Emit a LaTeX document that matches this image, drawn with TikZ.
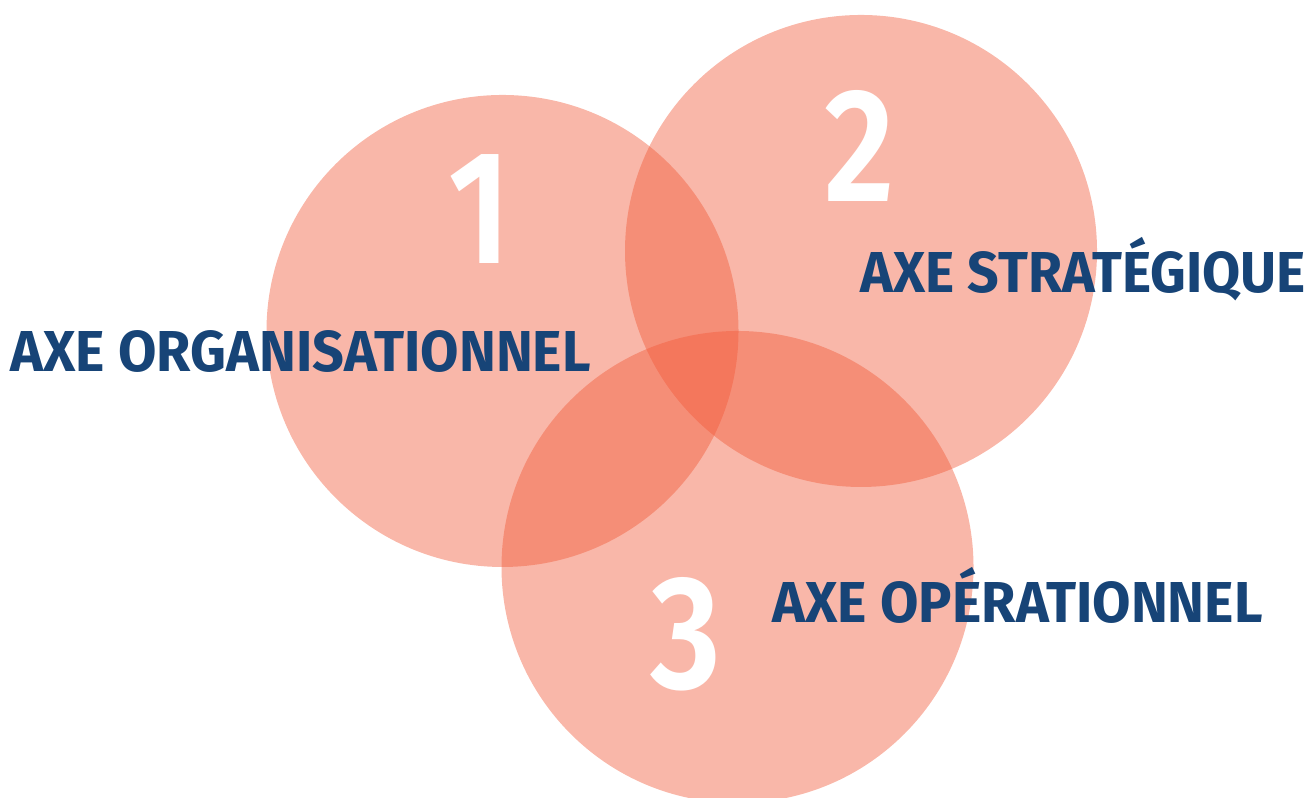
\documentclass[tikz,border=0pt]{standalone}
\usepackage{fontspec}
\usepackage{graphicx}
\setmainfont{Fira Sans}
\newfontfamily\numfont{Fira Sans}[UprightFont={* SemiBold}]
\definecolor{disccol}{RGB}{241,88,55}
\definecolor{axeblue}{RGB}{23,68,119}
\newcommand{\axetext}[2]{\resizebox{#1}{0.40cm}{\vphantom{A}\smash{#2}}}
\tikzset{
	disc/.style={fill=disccol,fill opacity=0.43},
	axe/.style={anchor=base west,inner sep=0pt,text=axeblue,font=\bfseries},
	num/.style={anchor=base,inner sep=0pt,text=white,font=\numfont\fontsize{46}{46}\selectfont}
}

\begin{document}
\begin{tikzpicture}
	\useasboundingbox (0,0) rectangle (13.08,7.98);
	\clip (0,0) rectangle (13.08,7.98);
	\coordinate (org) at (5.025,4.67);
	\coordinate (str) at (8.61,5.47);
	\coordinate (ope) at (7.375,2.31);
	\fill[disc] (org) circle (2.36);
	\fill[disc] (str) circle (2.36);
	\fill[disc] (ope) circle (2.36);
	\node[num] (n1) at (4.80,5.34) {\scalebox{0.85}[1]{1}};
	\node[num] (n2) at (8.60,5.96) {\scalebox{0.85}[1]{2}};
	\node[num] (n3) at (6.855,1.09) {\scalebox{0.85}[1]{3}};
	\node[axe] (lorg) at (0.10,4.26) {\axetext{5.80cm}{AXE ORGANISATIONNEL}};
	\node[axe] (lstr) at (8.60,5.05) {\axetext{4.45cm}{AXE STRATÉGIQUE}};
	\node[axe] (lope) at (7.72,1.75) {\axetext{4.90cm}{AXE OPÉRATIONNEL}};
\end{tikzpicture}
\end{document}
